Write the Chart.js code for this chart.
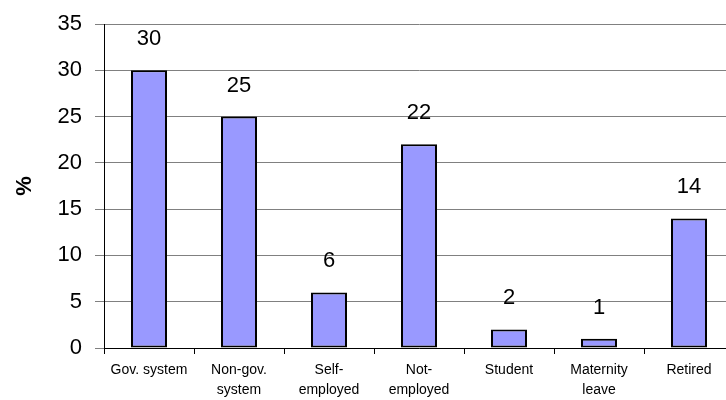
<!DOCTYPE html>
<html>
<head>
<meta charset="utf-8">
<script src="https://cdn.jsdelivr.net/npm/chart.js@4"></script>
<style>
  html, body { margin: 0; padding: 0; background: #fff; overflow: hidden; }
  #wrap { width: 726px; height: 400px; overflow: hidden; }
  #box { width: 740px; height: 400px; }
</style>
</head>
<body>
<div id="wrap"><div id="box"><canvas id="c"></canvas></div></div>
<script>
// data
const categories = [
  ['Gov. system'], ['Non-gov.', 'system'], ['Self-', 'employed'], ['Not-', 'employed'],
  ['Student'], ['Maternity', 'leave'], ['Retired']
];
const percents = [30, 25, 6, 22, 2, 1, 14];
const yTicks = [0, 5, 10, 15, 20, 25, 30, 35];

const FONT = '"Liberation Sans", Arial, sans-serif';

const valueLabels = {
  id: 'valueLabels',
  afterDatasetsDraw(chart) {
    const ctx = chart.ctx;
    const meta = chart.getDatasetMeta(0);
    ctx.save();
    ctx.font = '22px ' + FONT;
    ctx.fillStyle = '#000';
    ctx.textAlign = 'center';
    ctx.textBaseline = 'alphabetic';
    meta.data.forEach((bar, i) => {
      ctx.fillText(String(percents[i]), bar.x, bar.y - 25);
    });
    ctx.restore();
  }
};

new Chart(document.getElementById('c').getContext('2d'), {
  type: 'bar',
  data: {
    labels: categories,
    datasets: [{
      data: percents,
      backgroundColor: '#9999FF',
      borderColor: '#000',
      borderWidth: 2,
      borderSkipped: false,
      barPercentage: 0.8,
      categoryPercentage: 0.5
    }]
  },
  options: {
    responsive: true, maintainAspectRatio: false, animation: false,
    layout: { padding: { top: 24, right: 6, left: 0, bottom: 0 } },
    plugins: { legend: { display: false }, tooltip: { enabled: false } },
    scales: {
      x: {
        grid: { offset: true, drawOnChartArea: false, drawTicks: true, tickLength: 6, color: '#000' },
        border: { color: '#000', width: 1 },
        ticks: { color: '#000', padding: 6, maxRotation: 0, autoSkip: false,
                 font: { family: FONT, size: 14, lineHeight: 1.43 } },
        afterFit: (s) => { s.height = 52; }
      },
      y: {
        min: 0, max: 35,
        afterBuildTicks: (s) => { s.ticks = yTicks.map(v => ({ value: v })); },
        grid: { color: '#808080', tickLength: 9, tickColor: '#808080' },
        border: { color: '#000', width: 1 },
        ticks: { color: '#000', padding: 13,
                 font: { family: FONT, size: 22, lineHeight: 1.0 } },
        title: { display: true, text: '%', color: '#000', padding: { top: 12, bottom: 0 },
                 font: { family: FONT, size: 22, weight: 'bold' } },
        afterFit: (s) => { s.width = 104; }
      }
    }
  },
  plugins: [valueLabels]
});
</script>
</body>
</html>
